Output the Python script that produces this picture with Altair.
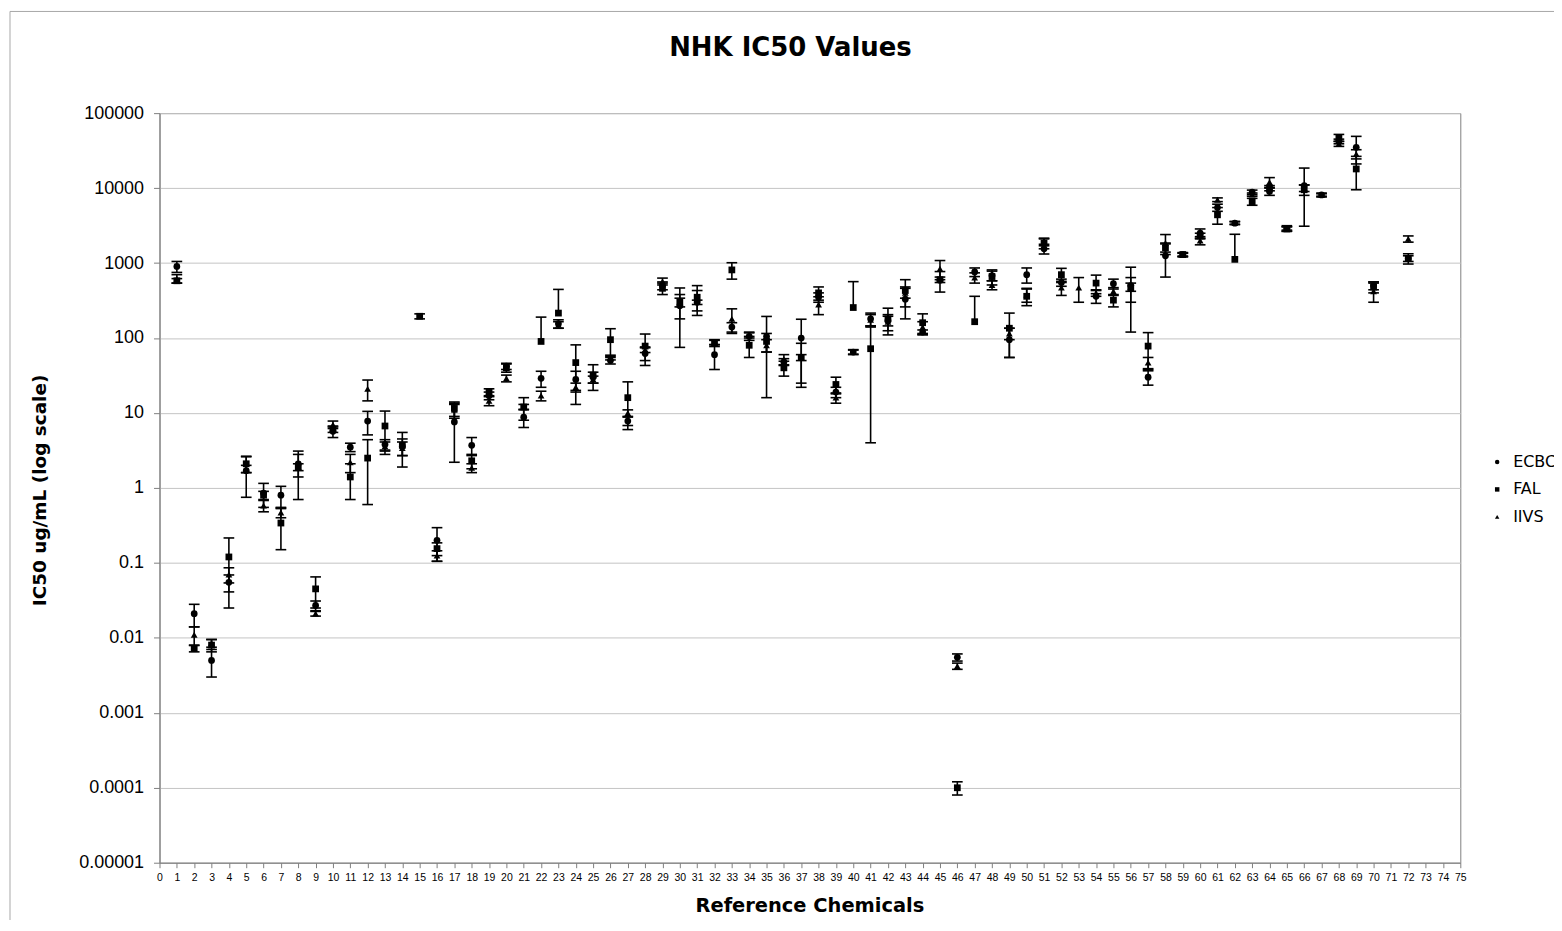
import altair as alt
import pandas as pd

chem = list(range(1, 73))

ecbc_val = [900, 0.021, 0.005, 0.055, 1.7, 0.85, 0.8, 2.1, 0.027, 5.7,
            3.5, 7.8, 3.8, 3.6, None, 0.2, 7.6, 3.7, 17, 42,
            8.8, 29, 155, 28, 30, 50, 7.8, 62, 500, 270,
            300, 60, 140, 105, 105, 48, 100, 350, 19, 65,
            180, 170, 330, 120, 590, 0.0055, 760, 680, 95, 700,
            1550, 550, None, 360, 530, 500, 30, 1250, 1300, 2500,
            5500, 3400, 8800, 9000, 2900, 10800, 8100, 42000, 35000, 500,
            None, 1150]
ecbc_sd = [150, 0.007, 0.002, 0.014, 0.95, 0.3, 0.25, 0.7, 0.004, 1.0,
           0.45, 2.7, 0.6, 0.9, None, 0.095, 5.4, 1.0, 2, 4,
           2.4, 7, 20, 8, 5, 5, 1, 12, 60, 195,
           20, 22, 20, 12, 89, 5, 78, 50, 3, 5,
           35, 25, 150, 8, 180, 0.0006, 100, 100, 40, 160,
           230, 60, None, 70, 80, 380, 6.5, 600, 80, 350,
           600, 150, 600, 1000, 250, 7700, 500, 3000, 14000, 60,
           None, 100]

fal_val = [580, 0.0072, 0.008, 0.12, 2.1, 0.8, 0.34, 1.9, 0.045, 6.0,
           1.4, 2.5, 6.7, 3.7, 195, 0.155, 11.5, 2.3, 19, 40,
           12, 90, 215, 47, 32, 95, 16, 78, 460, 300,
           350, 85, 810, 80, 90, 40, 55, 400, 24, 255,
           72, 180, 430, 160, 600, 0.0001, 165, 660, 135, 360,
           1850, 700, None, 540, 320, 470, 78, 1600, 1300, 2300,
           4400, 1120, 6600, 10000, 2850, 9500, None, 47000, 18000, 480,
           None, 1150]
fal_sd = [40, 0.0007, 0.0015, 0.095, 0.5, 0.1, 0.19, 1.2, 0.02, 0.5,
          0.7, 1.9, 3.9, 1.8, 15, 0.03, 2.5, 0.5, 2, 5,
          4, 100, 230, 34, 12, 38, 10, 35, 80, 40,
          150, 8, 200, 25, 25, 9, 30, 80, 6, 310,
          68, 70, 170, 50, 50, 0.00002, 195, 150, 80, 90,
          300, 150, None, 150, 60, 170, 40, 200, 60, 200,
          1100, 1300, 700, 800, 200, 1500, None, 5000, 8500, 80,
          None, 180]

iivs_val = [620, 0.011, 0.0085, 0.07, 1.8, 0.58, 0.47, 1.9, 0.021, 7.0,
            2.2, 21, 3.6, 3.4, None, 0.125, 11, 1.85, 14.5, 29,
            12, 17, 150, 22, 28, 55, 10, 70, 570, 280,
            330, 88, 180, 110, 80, 52, 55, 280, 16, 65,
            175, 165, 400, 140, 840, 0.0042, 640, 510, 115, 380,
            1900, 470, 470, 400, 420, 480, 47, 1850, 1280, 2000,
            7000, 3450, 8200, 12000, 2900, 10000, 8100, 39000, 28500, 420,
            None, 2100]
iivs_sd = [80, 0.003, 0.001, 0.016, 0.2, 0.1, 0.07, 0.2, 0.0015, 0.8,
           0.6, 6.5, 0.5, 0.7, None, 0.02, 2.5, 0.25, 2, 3,
           1, 2.5, 15, 3, 3, 4, 1, 6, 60, 100,
           100, 7, 65, 10, 15, 8, 5, 75, 2.5, 4,
           30, 40, 60, 25, 240, 0.0004, 100, 70, 20, 80,
           200, 100, 170, 40, 50, 60, 8, 550, 70, 250,
           400, 150, 400, 1800, 150, 1000, 300, 3000, 4000, 120,
           None, 200]

series_names = ["ECBC", "FAL", "IIVS"]
series_shapes = ["circle", "square", "triangle-up"]
x_ticks = list(range(76))
y_ticks = [1e-5, 1e-4, 1e-3, 1e-2, 1e-1, 1, 10, 100, 1000, 1e4, 1e5]
chart_title = "NHK IC50 Values"

rows = []
caps = []
for name, vals, sds in [("ECBC", ecbc_val, ecbc_sd),
                        ("FAL", fal_val, fal_sd),
                        ("IIVS", iivs_val, iivs_sd)]:
    for c, v, s in zip(chem, vals, sds):
        if v is None:
            continue
        lo = v - s
        has_lo = lo > 0
        rows.append(dict(chem=c, series=name, value=v, hi=v + s,
                         lo=lo if has_lo else v))
        caps.append(dict(chem=c, series=name, y=v + s))
        if has_lo:
            caps.append(dict(chem=c, series=name, y=lo))

df = pd.DataFrame(rows)
cap_df = pd.DataFrame(caps)

xscale = alt.Scale(domain=[0, 75], nice=False, zero=False)
yscale = alt.Scale(type="log", domain=[1e-5, 1e5], nice=False)

xaxis = alt.Axis(values=x_ticks, title="Reference Chemicals",
                 labelFont="Liberation Sans", labelFontSize=10.5,
                 labelAngle=0, labelOverlap=False, labelFlush=False,
                 labelPadding=5, tickSize=5, grid=False,
                 titleFont="DejaVu Sans", titleFontSize=19.5, titleFontWeight="bold",
                 titleX=652, titleY=43, titleBaseline="middle", titleAlign="center")
yaxis = alt.Axis(values=y_ticks,
                 labelExpr="format(datum.value, '.5~f')",
                 title="IC50 ug/mL (log scale)",
                 labelFont="Liberation Sans", labelFontSize=18,
                 labelPadding=10, tickSize=6, grid=True,
                 gridColor="#c4c4c4", gridWidth=1,
                 titleFont="DejaVu Sans", titleFontSize=18.5, titleFontWeight="bold",
                 titleAngle=-90, titleX=-120, titleY=378,
                 titleBaseline="middle", titleAlign="center")

X = lambda f: alt.X(f, type="quantitative", scale=xscale, axis=xaxis)
Y = lambda f: alt.Y(f, type="quantitative", scale=yscale, axis=yaxis)

one = pd.DataFrame({"t": [chart_title]})

frame = alt.Chart(one).mark_rect(
    filled=False, stroke="#a8a8a8", strokeWidth=1
).encode(x=alt.value(-150), x2=alt.value(1450), y=alt.value(-102), y2=alt.value(850))

title_mark = alt.Chart(one).mark_text(
    font="DejaVu Sans", fontSize=26, fontWeight="bold", color="black",
    align="center", baseline="middle"
).encode(x=alt.value(633), y=alt.value(-65), text="t:N")

bars = alt.Chart(df).mark_rule(color="black", strokeWidth=1.6).encode(
    x=X("chem"), y=Y("lo"), y2="hi:Q",
)

capmarks = alt.Chart(cap_df).mark_point(
    shape="M-1,0L1,0", filled=False, color="black", strokeWidth=1.6,
    size=115, opacity=1
).encode(x=X("chem"), y=Y("y"))

points = alt.Chart(df).mark_point(filled=True, color="black", opacity=1, size=46).encode(
    x=X("chem"),
    y=Y("value"),
    shape=alt.Shape("series:N",
                    scale=alt.Scale(domain=series_names, range=series_shapes),
                    legend=alt.Legend(title=None, orient="none", legendX=1334,
                                      legendY=342, symbolSize=20,
                                      symbolFillColor="black",
                                      symbolStrokeColor="black",
                                      labelFont="DejaVu Sans", labelFontSize=16,
                                      labelColor="black", labelOffset=8,
                                      rowPadding=11.5)),
)

chart = alt.layer(frame, bars, capmarks, points, title_mark).properties(
    width=1305, height=752,
    autosize=alt.AutoSizeParams(type="none"),
    padding={"left": 152, "top": 104, "right": 94, "bottom": 56},
).configure_view(stroke="#808080", strokeWidth=1).configure_axis(
    domainColor="#808080", tickColor="#808080", labelColor="black",
    titleColor="black", labelOverlap=False
)

chart.save("out.html", embed_options={"renderer": "svg", "actions": False})
